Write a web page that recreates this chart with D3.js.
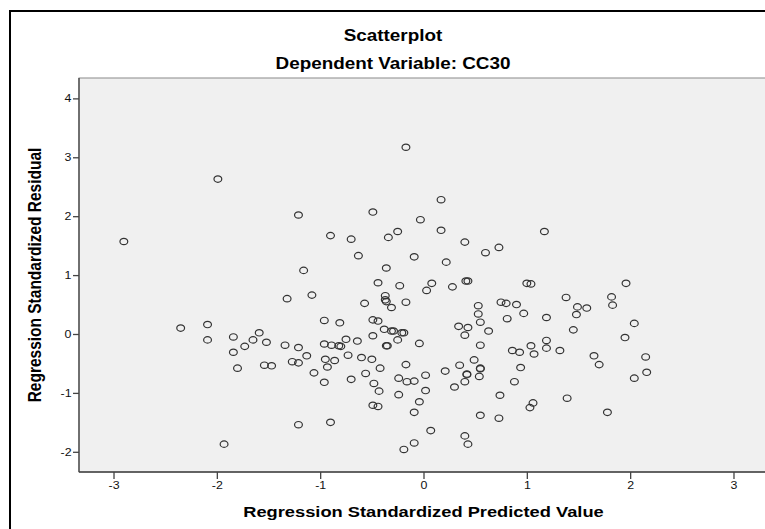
<!DOCTYPE html>
<html>
<head>
<meta charset="utf-8">
<script src="https://cdn.jsdelivr.net/npm/d3@7"></script>
<style>
  html, body { margin: 0; padding: 0; background: #fff; }
  svg { display: block; font-family: "Liberation Sans", Arial, sans-serif; }
</style>
</head>
<body>
<svg id="chart" width="765" height="529"></svg>
<script>
// Regression standardized predicted values (x) and residuals (y), one entry per case
const predicted = [
  -2.90, -1.99, -1.21, -1.16, -0.17, 0.17, -0.49, -0.03, -0.90, -0.70,
  -0.34, -0.25, 0.17, 0.40, 0.60, 0.73, -0.63, -0.09, 0.22, -0.36,
  1.17, -0.44, -0.23, 0.08, 0.03, 0.28, 0.41, 0.43, 1.00, 1.04,
  -1.08, -0.37, -0.37, -0.36, -0.57, -0.31, -0.17, 0.53, 0.53, 0.55,
  0.75, 0.80, 0.90, 0.97, 0.81, -0.96, -0.81, -0.49, -0.44, 0.34,
  0.43, 0.40, 0.63, -0.38, -0.31, -0.29, -0.21, -0.19, -0.49, -0.25,
  -0.04, -0.96, -0.89, -0.82, -0.80, -0.75, -0.64, -0.36, -0.35, 0.55,
  1.04, 0.86, 0.93, 1.07, -1.13, -0.95, -0.86, -0.73, -0.60, -0.50,
  -0.93, -0.42, -0.17, 0.49, 0.35, 0.55, 0.55, 0.42, 0.42, 0.54,
  0.40, 0.21, 0.30, 0.94, 0.88, -1.06, -0.96, -0.70, -0.56, -0.48,
  -0.24, -0.16, -0.09, 0.02, 0.02, -0.43, -0.24, -0.04, -0.49, -0.44,
  -0.09, 0.74, 0.55, 0.73, 1.06, 1.03, -0.90, 0.07, 0.40, 0.43,
  -0.09, -0.19, -1.32, -2.35, -2.09, -2.09, -1.84, -1.84, -1.80, -1.73,
  -1.65, -1.59, -1.52, -1.54, -1.47, -1.34, -1.21, -1.27, -1.21, -1.21,
  -1.93, 1.96, 1.38, 1.82, 1.83, 1.49, 1.58, 1.48, 1.19, 2.04,
  1.45, 1.95, 1.19, 1.19, 1.32, 1.65, 1.70, 2.15, 2.16, 2.04,
  1.39, 1.78
];
const residual = [
  1.57, 2.63, 2.02, 1.08, 3.17, 2.28, 2.07, 1.94, 1.67, 1.61,
  1.64, 1.74, 1.76, 1.56, 1.38, 1.47, 1.33, 1.31, 1.22, 1.12,
  1.74, 0.87, 0.82, 0.86, 0.74, 0.80, 0.90, 0.90, 0.86, 0.85,
  0.66, 0.65, 0.58, 0.55, 0.52, 0.45, 0.54, 0.48, 0.34, 0.20,
  0.54, 0.52, 0.50, 0.35, 0.26, 0.23, 0.19, 0.24, 0.22, 0.13,
  0.11, -0.02, 0.05, 0.08, 0.05, 0.05, 0.02, 0.02, -0.03, -0.10,
  -0.16, -0.17, -0.19, -0.20, -0.21, -0.09, -0.12, -0.20, -0.20, -0.19,
  -0.20, -0.28, -0.31, -0.34, -0.37, -0.43, -0.45, -0.36, -0.40, -0.43,
  -0.56, -0.58, -0.52, -0.44, -0.53, -0.58, -0.59, -0.68, -0.69, -0.72,
  -0.81, -0.63, -0.90, -0.57, -0.81, -0.66, -0.82, -0.77, -0.67, -0.84,
  -0.75, -0.81, -0.80, -0.70, -0.96, -0.97, -1.03, -1.15, -1.21, -1.23,
  -1.33, -1.04, -1.38, -1.43, -1.17, -1.25, -1.50, -1.64, -1.73, -1.87,
  -1.85, -1.96, 0.60, 0.10, 0.16, -0.10, -0.05, -0.31, -0.58, -0.21,
  -0.10, 0.02, -0.14, -0.53, -0.54, -0.19, -0.23, -0.47, -0.49, -1.54,
  -1.87, 0.86, 0.62, 0.63, 0.49, 0.46, 0.44, 0.33, 0.28, 0.18,
  0.07, -0.06, -0.11, -0.24, -0.28, -0.37, -0.52, -0.39, -0.65, -0.75,
  -1.09, -1.33
];
const xTicks = [-3, -2, -1, 0, 1, 2, 3];
const yTicks = [-2, -1, 0, 1, 2, 3, 4];

const chartTitle = "Scatterplot";
const chartSubtitle = "Dependent Variable: CC30";
const xTitle = "Regression Standardized Predicted Value";
const yTitle = "Regression Standardized Residual";

// Text in this figure is drawn slightly wide
const SX = 1.18;

const svg = d3.select("#chart");
const plot = { left: 79, top: 78, right: 768, bottom: 472 };

const x = d3.scaleLinear().domain([-3.334, 3.334]).range([plot.left, plot.right]);
const y = d3.scaleLinear().domain([-2.343, 4.346]).range([plot.bottom, plot.top]);

// Outer frame
svg.append("rect")
  .attr("x", 10).attr("y", 11)
  .attr("width", 800).attr("height", 560)
  .attr("fill", "none").attr("stroke", "#000").attr("stroke-width", 2);

// Plot background
svg.append("rect")
  .attr("x", plot.left).attr("y", plot.top)
  .attr("width", plot.right - plot.left).attr("height", plot.bottom - plot.top)
  .attr("fill", "#f0f0f0")
  .attr("stroke", "#8a8a8a").attr("stroke-width", 1);

function wideText(g, tx, ty, str, size, weight, anchor, rotate) {
  return g.append("text")
    .attr("transform", `translate(${tx},${ty}) scale(${SX},1)` + (rotate ? ` rotate(${rotate})` : ""))
    .attr("text-anchor", anchor || "middle")
    .attr("font-size", size)
    .attr("font-weight", weight || "normal")
    .attr("fill", "#000")
    .text(str);
}

// Titles
wideText(svg, 393, 40.5, chartTitle, 16, "bold");
wideText(svg, 393, 68.5, chartSubtitle, 16, "bold");

// Axes (plain hyphen for negative tick labels)
const fmt = d => String(d);
const xAxis = d3.axisBottom(x).tickValues(xTicks).tickSize(7).tickPadding(3).tickFormat(fmt);
const yAxis = d3.axisLeft(y).tickValues(yTicks).tickSize(6).tickPadding(3).tickFormat(fmt);

const gx = svg.append("g").attr("transform", `translate(0,${plot.bottom})`).call(xAxis);
const gy = svg.append("g").attr("transform", `translate(${plot.left},0)`).call(yAxis);

[gx, gy].forEach(g => {
  g.select(".domain").attr("stroke", "#444").attr("stroke-width", 1.3);
  g.selectAll(".tick line").attr("stroke", "#444").attr("stroke-width", 1.3);
  g.selectAll(".tick text")
    .attr("font-family", "Liberation Sans, Arial, sans-serif")
    .attr("font-size", 10.5)
    .attr("fill", "#111");
});
gx.selectAll(".domain").attr("d", `M${plot.left},0H${plot.right}`);
gy.selectAll(".domain").attr("d", `M0,${plot.bottom}V${plot.top}`);
gx.selectAll(".tick text").attr("transform", `scale(${SX},1)`)
  .attr("x", 0).attr("y", 10);
gy.selectAll(".tick text").attr("transform", `scale(${SX},1)`)
  .attr("x", -7.5 / SX);

// Axis titles
wideText(svg, x(0), 516.5, xTitle, 15.5, "bold");
wideText(svg, 41, (plot.top + plot.bottom) / 2, yTitle, 15.5, "bold", "middle", -90);

// Points
const pts = predicted.map((p, i) => ({ p, r: residual[i] }));
svg.append("g")
  .selectAll("ellipse")
  .data(pts)
  .join("ellipse")
  .attr("cx", d => x(d.p))
  .attr("cy", d => y(d.r))
  .attr("rx", 3.9)
  .attr("ry", 3.2)
  .attr("fill", "none")
  .attr("stroke", "#333")
  .attr("stroke-width", 1.2);
</script>
</body>
</html>
